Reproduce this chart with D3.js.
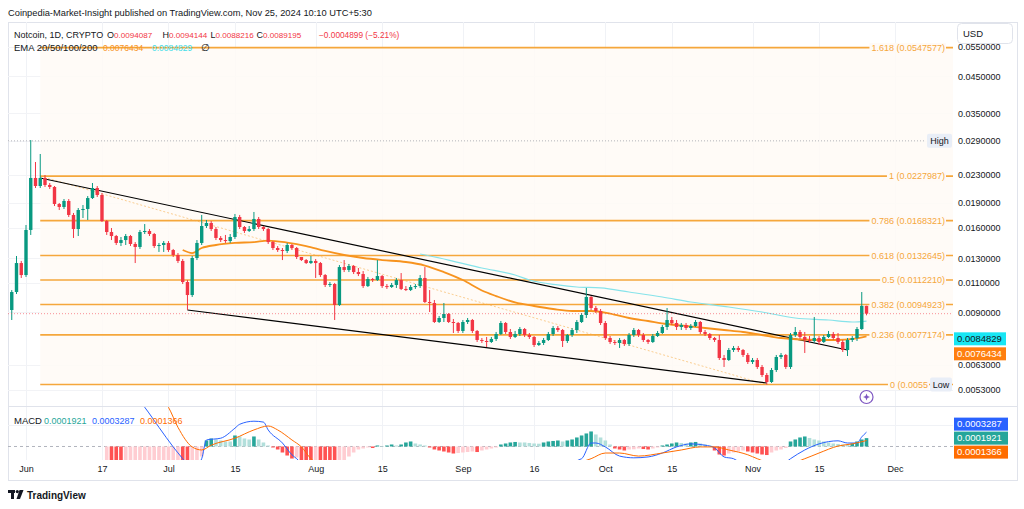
<!doctype html>
<html lang="en">
<head>
	<meta charset="UTF-8">
	<title>Notcoin 1D - TradingView</title>
	<script src="https://cdn.jsdelivr.net/npm/d3@7"></script>
	<style>
		html, body { margin: 0; padding: 0; background: #fff; }
		svg { display: block; font-family: "Liberation Sans", Arial, sans-serif; }
	</style>
</head>
<body>
	<svg id="chart" width="1024" height="509"></svg>
	<script>
		// ====== data
		var firstDay = '2024-05-29',
			firstOpen = 0.009147;

		var closes = [
			0.01034, 0.01260, 0.01161, 0.01579, 0.02251, 0.02131, 0.02251, 0.02146, 0.02117, 0.01885,
			0.01847, 0.01924, 0.01749, 0.01589, 0.01809, 0.01822, 0.01963, 0.02102, 0.02004, 0.01678,
			0.01557, 0.01515, 0.01445, 0.01474, 0.01515, 0.01435, 0.01406, 0.01557, 0.01568, 0.01536,
			0.01415, 0.01425, 0.01445, 0.01377, 0.01331, 0.01278, 0.01107, 0.01013, 0.01304, 0.01445,
			0.01622, 0.01656, 0.01589, 0.01495, 0.01474, 0.01464, 0.01505, 0.01725, 0.01611, 0.01568,
			0.01589, 0.01702, 0.01611, 0.01589, 0.01454, 0.01396, 0.01377, 0.01368, 0.01425, 0.01396,
			0.01313, 0.01286, 0.01260, 0.01278, 0.01260, 0.01161, 0.01085, 0.01092, 0.009465, 0.01226,
			0.01202, 0.01235, 0.01185, 0.01169, 0.01077, 0.01130, 0.01122, 0.01153, 0.01077, 0.01070,
			0.01085, 0.01122, 0.01056, 0.01048, 0.01070, 0.01077, 0.01138, 0.009660, 0.009595, 0.008428,
			0.008661, 0.008901, 0.008428, 0.008371, 0.007927, 0.008428, 0.008544, 0.007927, 0.007455, 0.007404,
			0.007354, 0.007506, 0.007766, 0.008371, 0.007873, 0.007609, 0.007766, 0.008035, 0.007713, 0.007609,
			0.007205, 0.007304, 0.007455, 0.007766, 0.008090, 0.007981, 0.007404, 0.007713, 0.007981, 0.008428,
			0.008840, 0.009995, 0.009273, 0.009085, 0.008371, 0.007557, 0.007354, 0.007304, 0.007455, 0.007254,
			0.007713, 0.007981, 0.007713, 0.007455, 0.007354, 0.007661, 0.007819, 0.008146, 0.008544, 0.008371,
			0.008146, 0.008258, 0.008090, 0.008201, 0.008428, 0.007873, 0.007766, 0.007557, 0.007455, 0.006593,
			0.006504, 0.006963, 0.007059, 0.006963, 0.006730, 0.006416, 0.006504, 0.006201, 0.005871, 0.005598,
			0.006075, 0.006638, 0.006730, 0.006201, 0.007713, 0.007873, 0.007609, 0.007455, 0.007404, 0.007557,
			0.007354, 0.007609, 0.007766, 0.007557, 0.007354, 0.006963, 0.007455, 0.007557, 0.008035, 0.0094087,
			0.0089195
		];

		var highs = [
			0.01048, 0.01322, 0.01278, 0.01633, 0.02916, 0.02510, 0.02651, 0.02297, 0.02175, 0.02131,
			0.01898, 0.01950, 0.01950, 0.01773, 0.01834, 0.01872, 0.01990, 0.02175, 0.02131, 0.02032,
			0.01690, 0.01600, 0.01526, 0.01505, 0.01536, 0.01526, 0.01454, 0.01579, 0.01644, 0.01589,
			0.01547, 0.01445, 0.01464, 0.01464, 0.01387, 0.01349, 0.01295, 0.01122, 0.01322, 0.01474,
			0.01749, 0.01690, 0.01678, 0.01611, 0.01515, 0.01526, 0.01536, 0.01761, 0.01749, 0.01622,
			0.01622, 0.01785, 0.01725, 0.01622, 0.01600, 0.01464, 0.01415, 0.01396, 0.01445, 0.01435,
			0.01406, 0.01313, 0.01295, 0.01322, 0.01295, 0.01269, 0.01169, 0.01107, 0.01100, 0.01243,
			0.01286, 0.01252, 0.01243, 0.01218, 0.01193, 0.01146, 0.01138, 0.01286, 0.01161, 0.01092,
			0.01100, 0.01138, 0.01177, 0.01077, 0.01085, 0.01092, 0.01161, 0.01226, 0.01048, 0.009793,
			0.008780, 0.009595, 0.008962, 0.008603, 0.008428, 0.008544, 0.008661, 0.008603, 0.007981, 0.007557,
			0.007609, 0.007609, 0.007873, 0.008486, 0.008428, 0.008035, 0.007927, 0.008146, 0.008090, 0.007819,
			0.007661, 0.007404, 0.007557, 0.007873, 0.008201, 0.008201, 0.008035, 0.007766, 0.008090, 0.008544,
			0.008962, 0.01063, 0.01006, 0.009400, 0.009210, 0.008486, 0.007661, 0.007455, 0.007557, 0.007506,
			0.007819, 0.008090, 0.008035, 0.007819, 0.007506, 0.007766, 0.007927, 0.008258, 0.009273, 0.008721,
			0.008544, 0.008371, 0.008371, 0.008314, 0.008544, 0.008486, 0.007981, 0.007819, 0.007609, 0.007713,
			0.006730, 0.007059, 0.007156, 0.007156, 0.007011, 0.006822, 0.006593, 0.006593, 0.006286, 0.005952,
			0.006159, 0.006730, 0.006822, 0.006776, 0.007819, 0.008146, 0.007981, 0.007873, 0.007661, 0.008721,
			0.007661, 0.007713, 0.007927, 0.007873, 0.007819, 0.007455, 0.007557, 0.007661, 0.008146, 0.01034,
			0.0094144
		];

		var lows = [
			0.008544, 0.01020, 0.01138, 0.01146, 0.01526, 0.02102, 0.02102, 0.02117, 0.02088, 0.01859,
			0.01809, 0.01822, 0.01725, 0.01495, 0.01515, 0.01713, 0.01690, 0.01950, 0.01977, 0.01667,
			0.01526, 0.01474, 0.01425, 0.01415, 0.01425, 0.01415, 0.01260, 0.01387, 0.01536, 0.01515,
			0.01396, 0.01359, 0.01359, 0.01359, 0.01313, 0.01260, 0.01092, 0.009147, 0.009995, 0.01286,
			0.01425, 0.01600, 0.01568, 0.01474, 0.01454, 0.01445, 0.01445, 0.01485, 0.01589, 0.01547,
			0.01557, 0.01568, 0.01589, 0.01568, 0.01435, 0.01377, 0.01359, 0.01286, 0.01349, 0.01377,
			0.01295, 0.01278, 0.01252, 0.01252, 0.01138, 0.01146, 0.01070, 0.01070, 0.008544, 0.009400,
			0.01185, 0.01185, 0.01169, 0.01153, 0.01063, 0.01070, 0.01107, 0.01115, 0.01063, 0.01056,
			0.01063, 0.01063, 0.01048, 0.01041, 0.01041, 0.01056, 0.01063, 0.009595, 0.009023, 0.008371,
			0.008371, 0.008428, 0.008371, 0.007819, 0.007819, 0.007819, 0.008314, 0.007819, 0.007354, 0.007304,
			0.007107, 0.007304, 0.007404, 0.007713, 0.007766, 0.007506, 0.007557, 0.007661, 0.007609, 0.007506,
			0.007107, 0.007156, 0.007205, 0.007404, 0.007661, 0.007873, 0.007107, 0.007304, 0.007609, 0.007819,
			0.008371, 0.008661, 0.009147, 0.008962, 0.008258, 0.007455, 0.007254, 0.007205, 0.007059, 0.007156,
			0.007156, 0.007609, 0.007609, 0.007354, 0.007254, 0.007304, 0.007609, 0.007766, 0.007981, 0.008258,
			0.007981, 0.007981, 0.007981, 0.007981, 0.008146, 0.007766, 0.007661, 0.007455, 0.007354, 0.006504,
			0.006201, 0.006460, 0.006869, 0.006869, 0.006638, 0.006329, 0.006329, 0.006117, 0.005792, 0.0055,
			0.005560, 0.005993, 0.006548, 0.006117, 0.006117, 0.007609, 0.007506, 0.006822, 0.007304, 0.007304,
			0.007205, 0.007304, 0.007557, 0.007455, 0.007254, 0.006869, 0.006684, 0.007354, 0.007404, 0.007981,
			0.0088216
		];

		// change shown in the legend (vs previous close)
		var lastChange = -0.0004899,
			lastChangePct = -5.21;

		// EMA 50 (orange) and EMA 100 (cyan), read at a number of dates
		var ema50Dates = ['2024-07-04', '2024-07-06', '2024-07-08', '2024-07-11', '2024-07-15', '2024-07-19',
			'2024-07-22', '2024-07-26', '2024-07-30', '2024-08-03', '2024-08-07', '2024-08-11', '2024-08-15',
			'2024-08-20', '2024-08-24', '2024-08-28', '2024-09-01', '2024-09-05', '2024-09-08', '2024-09-12',
			'2024-09-16', '2024-09-20', '2024-09-24', '2024-09-28', '2024-10-02', '2024-10-06', '2024-10-10',
			'2024-10-14', '2024-10-18', '2024-10-22', '2024-10-26', '2024-10-30', '2024-11-03', '2024-11-07',
			'2024-11-11', '2024-11-15', '2024-11-19', '2024-11-22', '2024-11-25'];
		var ema50Values = [0.01377, 0.01349, 0.01396, 0.01425, 0.01445, 0.01454,
			0.01469, 0.01449, 0.01415, 0.01368, 0.01331, 0.01304, 0.01286,
			0.01269, 0.01239, 0.01185, 0.01122, 0.01045, 0.01006, 0.009630,
			0.009400, 0.009210, 0.009085, 0.009085, 0.008930, 0.008661, 0.008486,
			0.008314, 0.008201, 0.008090, 0.007981, 0.007873, 0.007713, 0.007557,
			0.007480, 0.007455, 0.007455, 0.007506, 0.0076434];

		var ema100Dates = ['2024-08-23', '2024-08-29', '2024-09-05', '2024-09-12', '2024-09-15', '2024-09-21',
			'2024-09-25', '2024-09-30', '2024-10-06', '2024-10-13', '2024-10-19', '2024-10-27', '2024-11-03',
			'2024-11-10', '2024-11-17', '2024-11-22', '2024-11-25'];
		var ema100Values = [0.01340, 0.01286, 0.01218, 0.01161, 0.01122, 0.01085,
			0.01070, 0.01063, 0.01034, 0.009995, 0.009660, 0.009337, 0.009023,
			0.008661, 0.008544, 0.008428, 0.0084829];

		// MACD (12, 26, 9)
		var histFirstDay = '2024-06-18';
		var histValues = [
			-0.000368, -0.00046, -0.000552, -0.000598, -0.000575, -0.000552, -0.000529, -0.000506, -0.000483, -0.00046,
			-0.000437, -0.000414, -0.000391, -0.000368, -0.000345, -0.000345, -0.000391, -0.000437, -0.000391, -0.000322,
			-0.00023, 0.000138, 0.000184, 0.000161, 0.000138, 0.000115, 0.000115, 0.000253, 0.00023, 0.000184,
			0.000161, 0.00023, 0.000161, 0.000092, 0.000023, -0.000023, -0.000069, -0.000138, -0.000207, -0.000276,
			-0.000253, -0.000322, -0.000368, -0.000414, -0.000391, -0.000414, -0.00046, -0.000506, -0.000552, -0.00046,
			-0.000345, -0.00023, -0.000138, -0.000069, -0.000046, -0.000023, -0.000035, 0.000023, 0.000012, 0.000023,
			0.000046, 0.000023, 0.000046, 0.000092, 0.000115, 0.000069, 0.000046, 0.000023, -0.000023, -0.000069,
			-0.000092, -0.000115, -0.000138, -0.000161, -0.00015, -0.000138, -0.000127, -0.000115, -0.000127, -0.000092,
			-0.000069, -0.000046, -0.000023, 0.000046, 0.000069, 0.000092, 0.000104, 0.000092, 0.000092, 0.000081,
			0.000069, 0.000064, 0.000092, 0.000115, 0.000127, 0.000138, 0.000115, 0.000138, 0.000161, 0.000207,
			0.000253, 0.000299, 0.000345, 0.000276, 0.000207, 0.000138, 0.000046, -0.000046, -0.000069, -0.000092,
			-0.000069, -0.000064, -0.000046, -0.000058, -0.000069, -0.000046, -0.000023, 0.000023, 0.000046, 0.000069,
			0.000092, 0.000081, 0.000069, 0.000092, 0.000104, 0.000069, 0.000046, 0.000023, -0.000092, -0.000184,
			-0.000207, -0.000161, -0.000138, -0.000115, -0.000092, -0.000115, -0.000138, -0.000161, -0.000184, -0.000196,
			-0.000138, -0.000092, -0.000069, -0.000035, 0.000115, 0.000161, 0.000207, 0.00023, 0.000196, 0.000161,
			0.000138, 0.000115, 0.000092, 0.000069, 0.000058, 0.000046, 0.000041, 0.000069, 0.000115, 0.000161,
			0.0001921
		];

		var macdDates = ['2024-06-23', '2024-06-26', '2024-06-29', '2024-07-02', '2024-07-04', '2024-07-06',
			'2024-07-08', '2024-07-09', '2024-07-12', '2024-07-15', '2024-07-16', '2024-07-19', '2024-07-21',
			'2024-07-22', '2024-07-25', '2024-07-27', '2024-07-28', '2024-07-31', '2024-08-15', '2024-08-30',
			'2024-09-14', '2024-09-26', '2024-09-28', '2024-09-29', '2024-10-01', '2024-10-04', '2024-10-07',
			'2024-10-10', '2024-10-13', '2024-10-16', '2024-10-19', '2024-10-22', '2024-10-24', '2024-10-26',
			'2024-10-28', '2024-10-31', '2024-11-05', '2024-11-09', '2024-11-12', '2024-11-15', '2024-11-19',
			'2024-11-21', '2024-11-23', '2024-11-24', '2024-11-25'];
		var macdValues = [0.00129, 0.0009, 0.00044, -0.00001, -0.00028, -0.00054,
			-0.00028, 0.00015, 0.00019, 0.00042, 0.00051, 0.00058, 0.00056,
			0.00038, 0.00008, -0.00019, -0.00028, -0.00058, -0.0009, -0.0010,
			-0.0006, -0.00028, 0.00008, 0.00008, -0.00001, -0.00022, -0.00026,
			-0.00024, -0.00015, -0.00001, 0.00006, 0.00003, -0.00003, -0.00024,
			-0.00028, -0.0005, -0.0006, -0.00028, -0.00008, 0.00006, 0.00013,
			0.00008, 0.00008, 0.00022, 0.0003287];

		var signalDates = ['2024-06-27', '2024-07-01', '2024-07-03', '2024-07-06', '2024-07-08', '2024-07-10',
			'2024-07-15', '2024-07-19', '2024-07-22', '2024-07-24', '2024-07-27', '2024-07-29', '2024-07-31',
			'2024-08-04', '2024-08-20', '2024-09-09', '2024-09-28', '2024-10-01', '2024-10-04', '2024-10-08',
			'2024-10-13', '2024-10-17', '2024-10-21', '2024-10-24', '2024-10-27', '2024-10-31', '2024-11-02',
			'2024-11-07', '2024-11-12', '2024-11-15', '2024-11-19', '2024-11-22', '2024-11-25'];
		var signalValues = [0.0013, 0.0009, 0.00044, -0.00001, -0.00008, 0.00003,
			0.00019, 0.00038, 0.00047, 0.00038, 0.00015, -0.00001, -0.00028,
			-0.0005, -0.0008, -0.0007, -0.00028, -0.00015, -0.00015, -0.00022,
			-0.00015, -0.00008, -0.00001, -0.00001, -0.00008, -0.00019, -0.00028,
			-0.00045, -0.00028, -0.00015, 0.00001, 0.00006, 0.0001366];

		// Fibonacci retracement drawing
		var fibLevels = ['0', '0.236', '0.382', '0.5', '0.618', '0.786', '1', '1.618'];
		var fibPrices = [0.0055, 0.0077174, 0.0094923, 0.011221, 0.0132645, 0.0168321, 0.0227987, 0.0547577];
		var fibStart = '2024-06-04',
			fibEnd = '2024-11-04';

		// hand-drawn trend lines: [date, price] pairs
		var upperTrend = [['2024-06-04', 0.0225], ['2024-11-21', 0.006963]];
		var lowerTrend = [['2024-07-05', 0.009147], ['2024-11-04', 0.00556]];

		var highPrice = 0.0290;

		// axes
		var priceTicks = [0.055, 0.045, 0.035, 0.029, 0.023, 0.019, 0.016, 0.013, 0.011, 0.009, 0.0063, 0.0053];
		var timeTickDates = ['2024-06-01', '2024-06-17', '2024-07-01', '2024-07-15', '2024-08-01', '2024-08-15',
			'2024-09-01', '2024-09-16', '2024-10-01', '2024-10-15', '2024-11-01', '2024-11-15', '2024-12-01'];
		var timeTickLabels = ['Jun', '17', 'Jul', '15', 'Aug', '15', 'Sep', '16', 'Oct', '15', 'Nov', '15', 'Dec'];

		// ====== layout
		var plotL = 8,
			plotR = 953,
			frameR = 1018,
			mainT = 22,
			mainB = 406,
			macdT = 407,
			macdB = 460,
			frameB = 481;

		var UP = '#089981',
			DOWN = '#f23645',
			FIB = '#f5a73c',
			TEXT = '#131722',
			EMA50_COLOR = '#f7931e',
			EMA100_COLOR = '#86e3ea',
			FIB_BG = '#fffaf6';

		var parseDay = d3.utcParse('%Y-%m-%d');
		var fmt7 = d3.format('.7f');

		var svg = d3.select('#chart');

		var x = d3.scaleUtc()
			.domain([parseDay('2024-06-01'), parseDay('2024-12-01')])
			.range([26, 895]);

		var y = d3.scaleLog()
			.domain([0.0053, 0.055])
			.range([390, 47]);

		var macdY = d3.scaleLinear()
			.domain([-0.00031, 0.00092])
			.range([macdB, 406.4]);

		/**
		* build candle objects, open = previous close
		* @returns {Array}
		*/
		var buildCandles = function() {
			var start = parseDay(firstDay);
			return closes.map(function(c, i) {
				var o = i === 0 ? firstOpen : closes[i - 1];
				return {
					date: d3.utcDay.offset(start, i),
					o: o,
					c: c,
					h: Math.max(highs[i], o, c),
					l: Math.min(lows[i], o, c)
				};
			});
		};

		var candles = buildCandles();

		var defs = svg.append('defs');
		defs.append('clipPath').attr('id', 'clipMain')
			.append('rect').attr('x', plotL).attr('y', mainT).attr('width', plotR - plotL).attr('height', mainB - mainT);
		defs.append('clipPath').attr('id', 'clipMacd')
			.append('rect').attr('x', plotL).attr('y', macdT).attr('width', plotR - plotL).attr('height', macdB - macdT);

		// ====== header
		svg.append('text')
			.attr('x', 8).attr('y', 15.5)
			.attr('font-size', 9.3).attr('fill', TEXT)
			.text('Coinpedia-Market-Insight published on TradingView.com, Nov 25, 2024 10:10 UTC+5:30');

		// frame
		svg.append('rect')
			.attr('x', plotL + 0.5).attr('y', mainT + 0.5)
			.attr('width', frameR - plotL - 1).attr('height', frameB - mainT - 1)
			.attr('fill', '#fff').attr('stroke', '#e0e3eb');

		var gridLayer = svg.append('g');
		var main = svg.append('g').attr('clip-path', 'url(#clipMain)');
		var macd = svg.append('g').attr('clip-path', 'url(#clipMacd)');

		// ====== grid
		var drawGrid = function() {
			gridLayer.selectAll('line.v')
				.data(timeTickDates)
				.enter().append('line')
				.attr('class', 'v')
				.attr('x1', function(d) { return Math.round(x(parseDay(d))) + 0.5; })
				.attr('x2', function(d) { return Math.round(x(parseDay(d))) + 0.5; })
				.attr('y1', mainT).attr('y2', macdB)
				.attr('stroke', '#f0f2f6');
			gridLayer.selectAll('line.h')
				.data(priceTicks)
				.enter().append('line')
				.attr('class', 'h')
				.attr('x1', plotL).attr('x2', plotR)
				.attr('y1', function(d) { return Math.round(y(d)) + 0.5; })
				.attr('y2', function(d) { return Math.round(y(d)) + 0.5; })
				.attr('stroke', '#f2f3f6');
			gridLayer.append('line')
				.attr('x1', plotL).attr('x2', plotR)
				.attr('y1', Math.round(macdY(0.0005)) + 0.5).attr('y2', Math.round(macdY(0.0005)) + 0.5)
				.attr('stroke', '#f0f2f6');
		};

		// ====== fib drawing
		var drawFib = function() {
			var fx1 = x(parseDay(fibStart));
			var top = y(d3.max(fibPrices)),
				bottom = y(d3.min(fibPrices));

			main.append('rect')
				.attr('x', fx1).attr('y', top)
				.attr('width', plotR - fx1).attr('height', bottom - top)
				.attr('fill', FIB_BG).attr('fill-opacity', 0.85);

			main.selectAll('line.fib')
				.data(fibPrices)
				.enter().append('line')
				.attr('class', 'fib')
				.attr('x1', fx1).attr('x2', plotR)
				.attr('y1', function(d) { return y(d); })
				.attr('y2', function(d) { return y(d); })
				.attr('stroke', FIB).attr('stroke-width', 1.6);

			// diagonal trend of the fib drawing
			main.append('line')
				.attr('x1', fx1).attr('y1', y(fibPrices[6]))
				.attr('x2', x(parseDay(fibEnd))).attr('y2', y(fibPrices[0]))
				.attr('stroke', FIB).attr('stroke-opacity', 0.55)
				.attr('stroke-dasharray', '2,2');

			var labels = main.selectAll('g.fibLabel')
				.data(fibPrices)
				.enter().append('g')
				.attr('class', 'fibLabel');
			// the 0 level label is partly hidden behind the "Low" marker
			var txt = labels.append('text')
				.attr('x', function(d, i) { return i === 0 ? 928 : 945; })
				.attr('y', function(d) { return y(d) + 3.2; })
				.attr('text-anchor', 'end')
				.attr('font-size', 9)
				.attr('fill', FIB)
				.text(function(d, i) {
					return i === 0 ? fibLevels[i] + ' (' + d3.format('.4f')(d) : fibLevels[i] + ' (' + fmt7(d) + ')';
				});
			txt.each(function() {
				var b = this.getBBox();
				d3.select(this.parentNode).insert('rect', 'text')
					.attr('x', b.x - 2).attr('y', b.y)
					.attr('width', b.width + 3).attr('height', b.height)
					.attr('fill', FIB_BG);
			});
		};

		// ====== trend lines
		var drawTrends = function() {
			[upperTrend, lowerTrend].forEach(function(t) {
				main.append('line')
					.attr('x1', x(parseDay(t[0][0]))).attr('y1', y(t[0][1]))
					.attr('x2', x(parseDay(t[1][0]))).attr('y2', y(t[1][1]))
					.attr('stroke', '#000').attr('stroke-width', 1.2);
			});
		};

		// ====== EMAs
		var drawEma = function(dates, values, color, width) {
			var line = d3.line()
				.x(function(d) { return x(parseDay(d[0])); })
				.y(function(d) { return y(d[1]); })
				.curve(d3.curveMonotoneX);
			main.append('path')
				.datum(d3.zip(dates, values))
				.attr('d', line)
				.attr('fill', 'none')
				.attr('stroke', color)
				.attr('stroke-width', width);
		};

		// ====== candles
		var drawCandles = function() {
			var g = main.selectAll('g.candle')
				.data(candles)
				.enter().append('g')
				.attr('class', 'candle');
			g.append('line')
				.attr('x1', function(d) { return x(d.date); })
				.attr('x2', function(d) { return x(d.date); })
				.attr('y1', function(d) { return y(d.h); })
				.attr('y2', function(d) { return y(d.l); })
				.attr('stroke', function(d) { return d.c >= d.o ? UP : DOWN; })
				.attr('stroke-width', 1);
			g.append('rect')
				.attr('x', function(d) { return x(d.date) - 1.7; })
				.attr('width', 3.4)
				.attr('y', function(d) { return y(Math.max(d.o, d.c)); })
				.attr('height', function(d) { return Math.max(1, Math.abs(y(d.o) - y(d.c))); })
				.attr('fill', function(d) { return d.c >= d.o ? UP : DOWN; });
		};

		// ====== MACD pane
		var drawMacd = function() {
			var start = parseDay(histFirstDay);
			var bars = histValues.map(function(v, i) {
				var prev = i > 0 ? histValues[i - 1] : v;
				var color;
				if (v >= 0) {
					color = v > prev ? '#26a69a' : '#b2dfdb';
				} else {
					color = v < prev ? '#ff5252' : '#ffcdd2';
				}
				return { date: d3.utcDay.offset(start, i), v: v, color: color };
			});

			macd.append('line')
				.attr('x1', plotL).attr('x2', plotR)
				.attr('y1', macdY(0)).attr('y2', macdY(0))
				.attr('stroke', '#b2b5be').attr('stroke-dasharray', '3,3');

			macd.selectAll('rect.hist')
				.data(bars)
				.enter().append('rect')
				.attr('class', 'hist')
				.attr('x', function(d) { return x(d.date) - 1.8; })
				.attr('width', 3.6)
				.attr('y', function(d) { return Math.min(macdY(d.v), macdY(0)); })
				.attr('height', function(d) { return Math.abs(macdY(d.v) - macdY(0)); })
				.attr('fill', function(d) { return d.color; });

			var line = d3.line()
				.x(function(d) { return x(parseDay(d[0])); })
				.y(function(d) { return macdY(d[1]); })
				.curve(d3.curveMonotoneX);
			macd.append('path')
				.datum(d3.zip(macdDates, macdValues))
				.attr('d', line).attr('fill', 'none')
				.attr('stroke', '#2962ff').attr('stroke-width', 1);
			macd.append('path')
				.datum(d3.zip(signalDates, signalValues))
				.attr('d', line).attr('fill', 'none')
				.attr('stroke', '#ff6d00').attr('stroke-width', 1);
		};

		// ====== price line, high / low markers
		var drawMarkers = function() {
			var last = candles[candles.length - 1];
			main.append('line')
				.attr('x1', plotL).attr('x2', plotR)
				.attr('y1', y(last.c)).attr('y2', y(last.c))
				.attr('stroke', DOWN).attr('stroke-opacity', 0.55)
				.attr('stroke-dasharray', '1,2');
			main.append('line')
				.attr('x1', plotL).attr('x2', 926)
				.attr('y1', y(highPrice)).attr('y2', y(highPrice))
				.attr('stroke', '#9598a1').attr('stroke-opacity', 0.7)
				.attr('stroke-dasharray', '1,2');

			[['High', highPrice, 927], ['Low', fibPrices[0], 930]].forEach(function(m) {
				var cy = y(m[1]);
				svg.append('rect')
					.attr('x', m[2]).attr('y', cy - 7)
					.attr('width', 952 - m[2]).attr('height', 14)
					.attr('rx', 2)
					.attr('fill', '#e9eef7');
				svg.append('text')
					.attr('x', (m[2] + 952) / 2).attr('y', cy + 3.2)
					.attr('text-anchor', 'middle')
					.attr('font-size', 9).attr('fill', TEXT)
					.text(m[0]);
			});

			// purple marker under the last bar
			var mk = svg.append('g').attr('transform', 'translate(' + x(last.date) + ',397)');
			mk.append('circle').attr('r', 6.5).attr('fill', '#fff')
				.attr('stroke', '#7e57c2').attr('stroke-width', 1.2);
			mk.append('path').attr('d', 'M0,-3.5 L1,-1 L3.5,0 L1,1 L0,3.5 L-1,1 L-3.5,0 L-1,-1 Z')
				.attr('fill', '#7e57c2');
		};

		// ====== axes
		var drawAxes = function() {
			var ay = svg.append('g')
				.attr('transform', 'translate(' + plotR + ',0)')
				.call(d3.axisRight(y).tickValues(priceTicks).tickFormat(fmt7).tickSize(0).tickPadding(5));
			ay.select('.domain').remove();
			ay.selectAll('text').attr('font-size', 9).attr('fill', TEXT)
				.attr('font-family', '"Liberation Sans", Arial, sans-serif');

			var ax = svg.append('g')
				.attr('transform', 'translate(0,' + 466 + ')')
				.call(d3.axisBottom(x)
					.tickValues(timeTickDates.map(parseDay))
					.tickFormat(function(d, i) { return timeTickLabels[i]; })
					.tickSize(0).tickPadding(0));
			ax.select('.domain').remove();
			ax.selectAll('text').attr('font-size', 9).attr('fill', TEXT)
				.attr('font-family', '"Liberation Sans", Arial, sans-serif');

			// pane separator
			svg.append('line')
				.attr('x1', plotL).attr('x2', frameR)
				.attr('y1', mainB + 0.5).attr('y2', mainB + 0.5)
				.attr('stroke', '#e0e3eb');
		};

		// ====== value boxes on the price scale
		var drawBoxes = function() {
			var box = function(cy, label, bg, fg, w) {
				svg.append('rect')
					.attr('x', plotR + 1).attr('y', cy - 6.5)
					.attr('width', w).attr('height', 13)
					.attr('fill', bg);
				svg.append('text')
					.attr('x', plotR + 4).attr('y', cy + 3.3)
					.attr('font-size', 9.5).attr('fill', fg)
					.text(label);
			};
			var e50 = ema50Values[ema50Values.length - 1],
				e100 = ema100Values[ema100Values.length - 1];
			var orangeY = y(e50) + 17.5;
			box(orangeY - 15, fmt7(e100), '#18e6f4', TEXT, 52);
			box(orangeY, fmt7(e50), '#ff7f0f', '#fff', 52);

			var hist = histValues[histValues.length - 1],
				m = macdValues[macdValues.length - 1],
				s = signalValues[signalValues.length - 1];
			var midY = macdY(hist);
			box(midY - 14, fmt7(m), '#2962ff', '#fff', 54);
			box(midY, fmt7(hist), '#26a69a', '#fff', 54);
			box(midY + 14, fmt7(s), '#ff6d00', '#fff', 54);

			// USD box
			svg.append('rect')
				.attr('x', 957.5).attr('y', 23.5).attr('width', 55).attr('height', 20)
				.attr('rx', 4).attr('fill', '#fff').attr('stroke', '#e0e3eb');
			svg.append('text')
				.attr('x', 963).attr('y', 37).attr('font-size', 9.5).attr('fill', TEXT)
				.text('USD');
		};

		// ====== legends
		var drawLegends = function() {
			var last = candles[candles.length - 1];
			var l1 = svg.append('text').attr('y', 37.5).attr('font-size', 9).attr('fill', TEXT);
			l1.append('tspan').attr('x', 14).text('Notcoin, 1D, CRYPTO');
			[['O', last.o, 107], ['H', last.h, 162.5], ['L', last.l, 210.5], ['C', last.c, 256.5]].forEach(function(p) {
				l1.append('tspan').attr('x', p[2]).text(p[0]);
				l1.append('tspan').attr('fill', DOWN).attr('font-size', 8.1).text(fmt7(p[1]));
			});
			l1.append('tspan').attr('x', 319).attr('fill', DOWN).attr('font-size', 8.3)
				.text('\u2212' + fmt7(Math.abs(lastChange)) + ' (\u2212' + d3.format('.2f')(Math.abs(lastChangePct)) + '%)');

			var l2 = svg.append('text').attr('y', 51).attr('font-size', 9.5).attr('fill', TEXT);
			l2.append('tspan').attr('x', 14).text('EMA 20/50/100/200');
			l2.append('tspan').attr('x', 103).attr('font-size', 8.5).attr('fill', EMA50_COLOR).text(fmt7(ema50Values[ema50Values.length - 1]));
			l2.append('tspan').attr('x', 152).attr('font-size', 8.5).attr('fill', '#3fdde8').text(fmt7(ema100Values[ema100Values.length - 1]));
			l2.append('tspan').attr('x', 201).text('\u2205');

			var l3 = svg.append('text').attr('y', 423.5).attr('font-size', 9.5).attr('fill', TEXT);
			l3.append('tspan').attr('x', 14).text('MACD');
			l3.append('tspan').attr('x', 44).attr('font-size', 9).attr('fill', '#26a69a').text(fmt7(histValues[histValues.length - 1]));
			l3.append('tspan').attr('x', 92).attr('font-size', 9).attr('fill', '#2962ff').text(fmt7(macdValues[macdValues.length - 1]));
			l3.append('tspan').attr('x', 140).attr('font-size', 9).attr('fill', '#ff6d00').text(fmt7(signalValues[signalValues.length - 1]));
		};

		// ====== TradingView footer
		var drawFooter = function() {
			var g = svg.append('g').attr('fill', TEXT);
			g.append('rect').attr('x', 8).attr('y', 490).attr('width', 7).attr('height', 3);
			g.append('rect').attr('x', 11).attr('y', 490).attr('width', 3).attr('height', 9);
			g.append('circle').attr('cx', 17.3).attr('cy', 491.6).attr('r', 1.6);
			g.append('path').attr('d', 'M19.5,490 L23.5,490 L20,499 L16.5,499 Z');
			g.append('text').attr('x', 27).attr('y', 498.5)
				.attr('font-size', 10).attr('font-weight', 600)
				.text('TradingView');
		};

		drawGrid();
		drawFib();
		drawTrends();
		drawEma(ema50Dates, ema50Values, EMA50_COLOR, 1.8);
		drawEma(ema100Dates, ema100Values, EMA100_COLOR, 1.2);
		drawCandles();
		drawMacd();
		drawMarkers();
		drawAxes();
		drawBoxes();
		drawLegends();
		drawFooter();
	</script>
</body>
</html>
